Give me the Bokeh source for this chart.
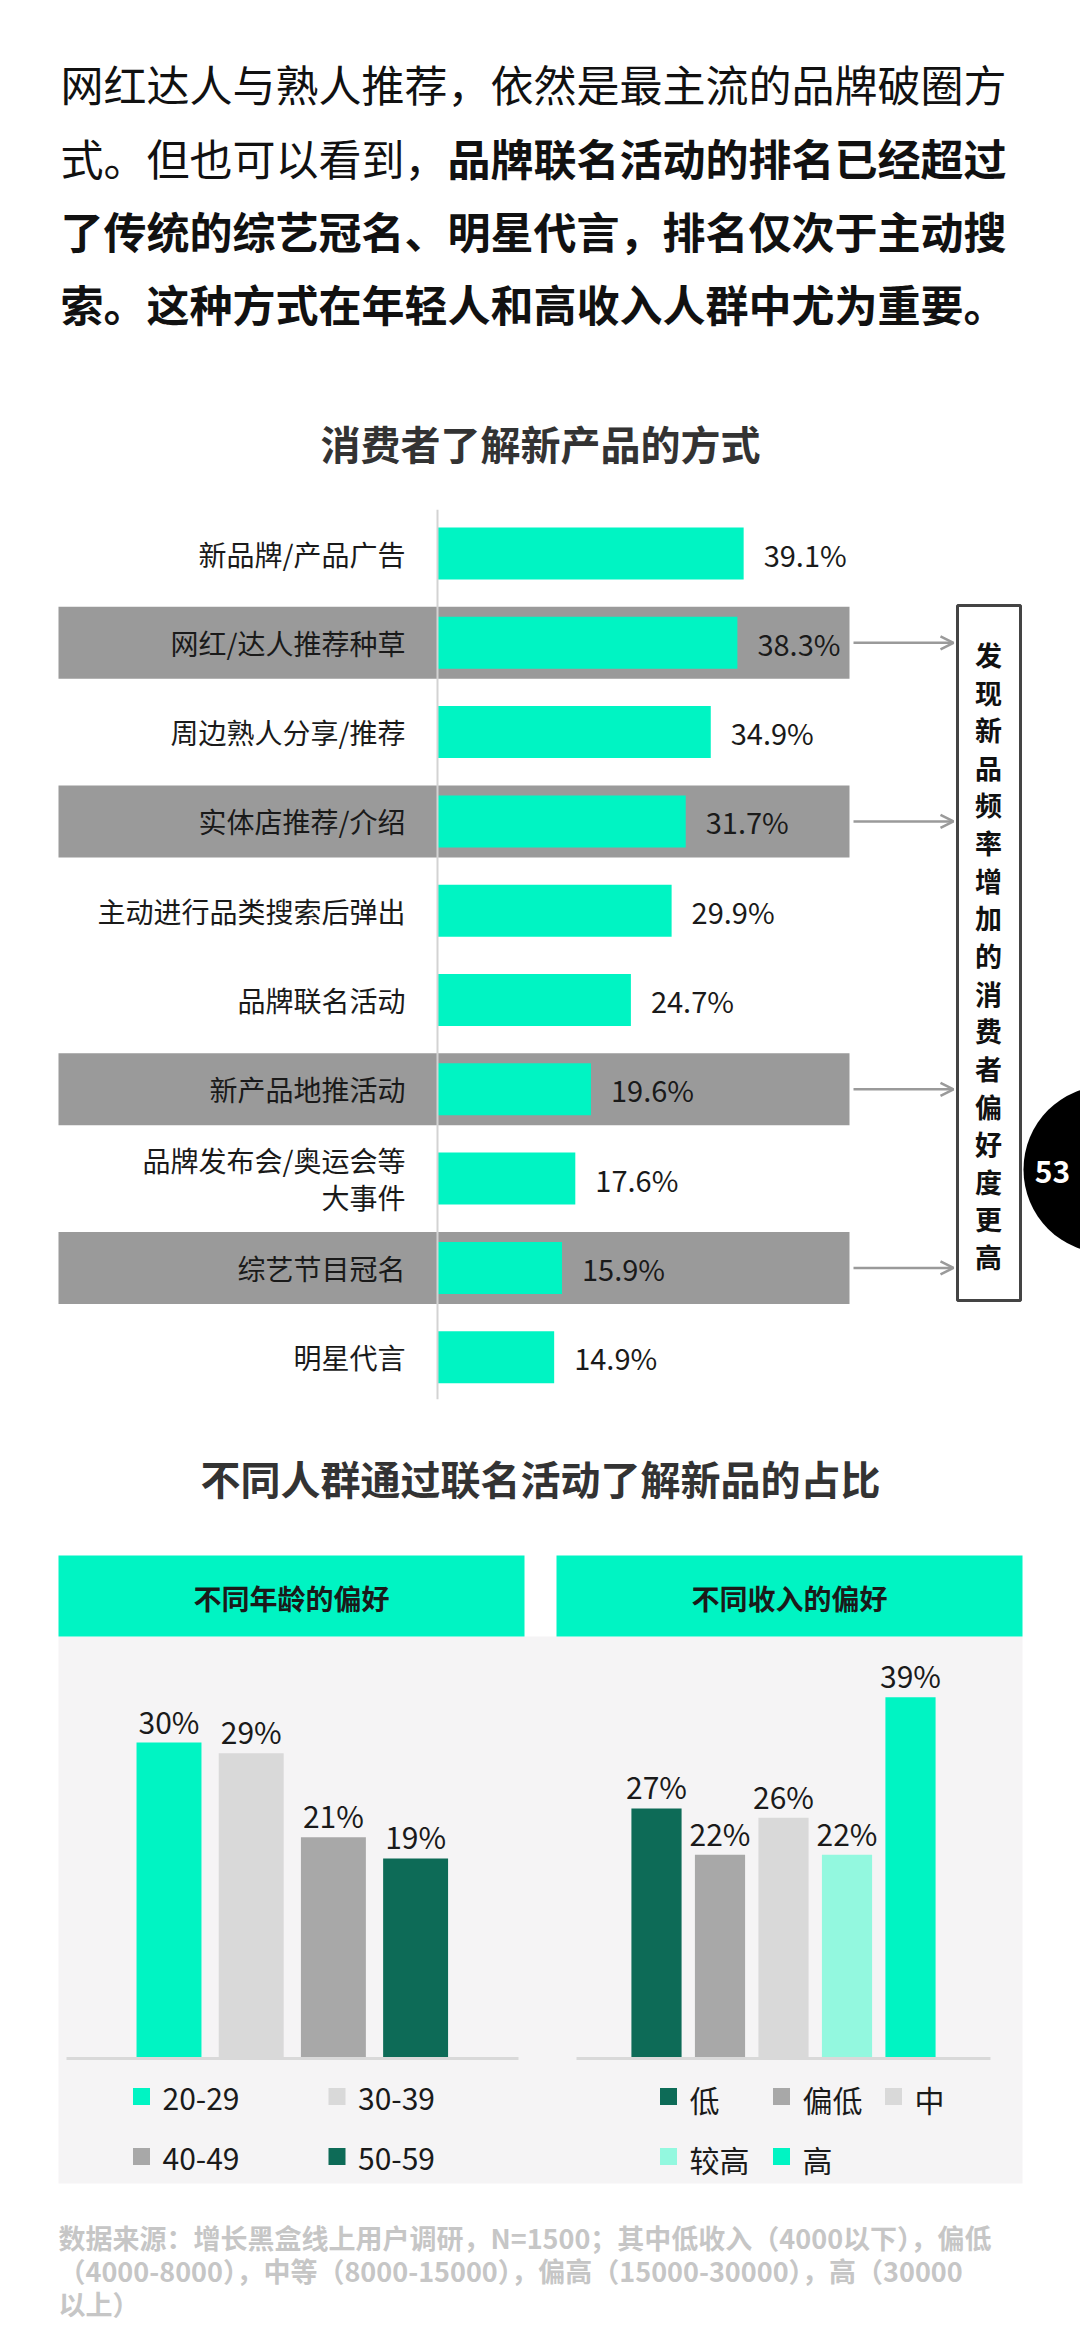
from bokeh.plotting import figure
from bokeh.models import ColumnDataSource, Range1d, Arrow, OpenHead
from bokeh.core.properties import value
from bokeh.embed import file_html
from bokeh.resources import INLINE

# ---------------- data ----------------
categories = ["新品牌/产品广告", "网红/达人推荐种草", "周边熟人分享/推荐", "实体店推荐/介绍",
              "主动进行品类搜索后弹出", "品牌联名活动", "新产品地推活动",
              "品牌发布会/奥运会等\n大事件", "综艺节目冠名", "明星代言"]
shares = [39.1, 38.3, 34.9, 31.7, 29.9, 24.7, 19.6, 17.6, 15.9, 14.9]
highlighted = ["网红/达人推荐种草", "实体店推荐/介绍", "新产品地推活动", "综艺节目冠名"]

age_groups = ["20-29", "30-39", "40-49", "50-59"]
age_share = [30, 29, 21, 19]

income_groups = ["低", "偏低", "中", "较高", "高"]
income_share = [27, 22, 26, 22, 39]

note_text = "发现新品频率增加的消费者偏好度更高"
page_number = "53"

# ---------------- styles ----------------
FONT = "Noto Sans CJK SC"
MINT = "#00F4C3"
PALE_MINT = "#93F8DF"
DARK_GREEN = "#0D6B57"
GRAY = "#A8A8A8"
LIGHT_GRAY = "#D9D9D9"
BAND = "#9A9A9A"
age_colors = [MINT, LIGHT_GRAY, GRAY, DARK_GREEN]
income_colors = [DARK_GREEN, GRAY, LIGHT_GRAY, PALE_MINT, MINT]

W, H = 1080, 2339
p = figure(width=W, height=H, output_backend="svg", toolbar_location=None,
           x_range=Range1d(0, W), y_range=Range1d(H, 0),
           min_border=0, outline_line_color=None, background_fill_color="white",
           border_fill_color="white")
p.axis.visible = False
p.grid.visible = False

# scales for the charts (pixel anchors -> data units)
PX_PCT, X0 = 7.83, 437.0
ROW0, ROW_H = 553.0, 89.3
p.extra_x_ranges["pct"] = Range1d((0 - X0) / PX_PCT, (W - X0) / PX_PCT)
p.extra_y_ranges["rows"] = Range1d((H - ROW0) / ROW_H, (0 - ROW0) / ROW_H)
AGE0, AGE_STEP = 168.5, 82.2
INC0, INC_STEP = 656.0, 63.5
BASE_Y = 2058.0
AGE_PX, INC_PX = 10.53, 9.26
p.extra_x_ranges["age"] = Range1d((0 - AGE0) / AGE_STEP, (W - AGE0) / AGE_STEP)
p.extra_x_ranges["inc"] = Range1d((0 - INC0) / INC_STEP, (W - INC0) / INC_STEP)
p.extra_y_ranges["agepct"] = Range1d((BASE_Y - H) / AGE_PX, BASE_Y / AGE_PX)
p.extra_y_ranges["incpct"] = Range1d((BASE_Y - H) / INC_PX, BASE_Y / INC_PX)


def txt(x, y, s, size, color="#1a1a1a", bold=False, align="left", baseline="middle", **kw):
    p.text(x=[x], y=[y], text=[s], text_font=value(FONT), text_font_size=size,
           text_color=color, text_font_style="bold" if bold else "normal",
           text_align=align, text_baseline=baseline, **kw)


# ---------------- intro paragraph ----------------
FS = 43
txt(60, 82, "网红达人与熟人推荐，依然是最主流的品牌破圈方", f"{FS}px", "#111111")
txt(60, 156, "式。但也可以看到，", f"{FS}px", "#111111")
txt(60 + 9 * FS, 156, "品牌联名活动的排名已经超过", f"{FS}px", "#111111", bold=True)
txt(60, 229, "了传统的综艺冠名、明星代言，排名仅次于主动搜", f"{FS}px", "#111111", bold=True)
txt(60, 302, "索。这种方式在年轻人和高收入人群中尤为重要。", f"{FS}px", "#111111", bold=True)

# ---------------- chart 1 ----------------
txt(540, 442, "消费者了解新产品的方式", "40px", "#333333", bold=True, align="center")

idx = list(range(len(categories)))
band_idx = [categories.index(c) for c in highlighted]
p.hbar(y=band_idx, left=58, right=849, height=72 / ROW_H, y_range_name="rows",
       fill_color=BAND, line_color=None)

src1 = ColumnDataSource(dict(y=idx, v=shares, cat=categories,
                             lab=[f"{v:.1f}%" for v in shares]))
p.hbar(y="y", left=0, right="v", height=52 / ROW_H, source=src1,
       x_range_name="pct", y_range_name="rows", fill_color=MINT, line_color=None)
p.segment(x0=[0], x1=[0], y0=[-0.49], y1=[len(categories) - 0.53],
          x_range_name="pct", y_range_name="rows", line_color="#D3D3D3", line_width=2)
p.text(x=0, y="y", text="cat", source=src1, x_range_name="pct", y_range_name="rows",
       x_offset=-32, text_font=value(FONT), text_font_size="28px", text_color="#1a1a1a",
       text_align="right", text_baseline="middle", text_line_height=0.94)
p.text(x="v", y="y", text="lab", source=src1, x_range_name="pct", y_range_name="rows",
       x_offset=20, text_font=value(FONT), text_font_size="29px", text_color="#1a1a1a",
       text_align="left", text_baseline="middle")

for b in band_idx:
    p.add_layout(Arrow(end=OpenHead(size=13, line_color="#9A9A9A", line_width=2.5),
                       x_start=853, x_end=953, y_start=b, y_end=b, y_range_name="rows",
                       line_color="#9A9A9A", line_width=2.5))

p.quad(left=[957], right=[1020], top=[605], bottom=[1300], fill_color="white",
       line_color="#444444", line_width=3)
txt(988, 955, "\n".join(note_text), "27px", "#111111", bold=True, align="center",
    text_line_height=0.965)

p.circle(x=[1107], y=[1169], radius=84, fill_color="black", line_color=None)
txt(1052, 1171, page_number, "30px", "white", bold=True, align="center")

# ---------------- chart 2 ----------------
txt(540, 1477, "不同人群通过联名活动了解新品的占比", "40px", "#333333", bold=True, align="center")

p.quad(left=[58], right=[1022], top=[1636], bottom=[2183], fill_color="#F5F4F5", line_color=None)
p.quad(left=[58, 556], right=[524, 1022], top=[1555, 1555], bottom=[1636, 1636],
       fill_color=MINT, line_color=None)
txt(291, 1597, "不同年龄的偏好", "28px", "#1a1a1a", bold=True, align="center")
txt(789, 1597, "不同收入的偏好", "28px", "#1a1a1a", bold=True, align="center")

src_age = ColumnDataSource(dict(x=list(range(len(age_groups))), v=age_share, c=age_colors,
                                lab=[f"{v:.0f}%" for v in age_share]))
p.vbar(x="x", top="v", bottom=0, width=0.79, source=src_age, fill_color="c",
       line_color=None, x_range_name="age", y_range_name="agepct")
p.text(x="x", y="v", text="lab", source=src_age, x_range_name="age", y_range_name="agepct",
       y_offset=-22, text_font=value(FONT), text_font_size="30px", text_color="#1a1a1a",
       text_align="center", text_baseline="middle")
p.segment(x0=[66], x1=[518], y0=[0], y1=[0], y_range_name="agepct",
          line_color=LIGHT_GRAY, line_width=3)

src_inc = ColumnDataSource(dict(x=list(range(len(income_groups))), v=income_share,
                                c=income_colors, lab=[f"{v:.0f}%" for v in income_share]))
p.vbar(x="x", top="v", bottom=0, width=0.79, source=src_inc, fill_color="c",
       line_color=None, x_range_name="inc", y_range_name="incpct")
p.text(x="x", y="v", text="lab", source=src_inc, x_range_name="inc", y_range_name="incpct",
       y_offset=-22, text_font=value(FONT), text_font_size="30px", text_color="#1a1a1a",
       text_align="center", text_baseline="middle")
p.segment(x0=[576], x1=[990], y0=[0], y1=[0], y_range_name="incpct",
          line_color=LIGHT_GRAY, line_width=3)

# legends
age_lx = [141, 336.5, 141, 336.5]
age_ly = [2096, 2096, 2156, 2156]
p.rect(x=age_lx, y=age_ly, width=17, height=17, fill_color=age_colors, line_color=None)
p.text(x=[x + 21 for x in age_lx], y=[y + 2 for y in age_ly], text=age_groups,
       text_font=value(FONT), text_font_size="30px", text_color="#1a1a1a",
       text_align="left", text_baseline="middle")
inc_lx = [668, 781, 893, 668, 781]
inc_ly = [2096, 2096, 2096, 2156, 2156]
p.rect(x=inc_lx, y=inc_ly, width=17, height=17, fill_color=income_colors, line_color=None)
p.text(x=[x + 21 for x in inc_lx], y=[y + 2 for y in inc_ly], text=income_groups,
       text_font=value(FONT), text_font_size="30px", text_color="#1a1a1a",
       text_align="left", text_baseline="middle")

# footer
footer = ["数据来源：增长黑盒线上用户调研，N=1500；其中低收入（4000以下），偏低",
          "（4000-8000），中等（8000-15000），偏高（15000-30000），高（30000",
          "以上）"]
for i, line in enumerate(footer):
    txt(58, 2237 + 33 * i, line, "27px", "#C6C6C6", bold=True)

open("out.html", "w").write(file_html(p, INLINE))
